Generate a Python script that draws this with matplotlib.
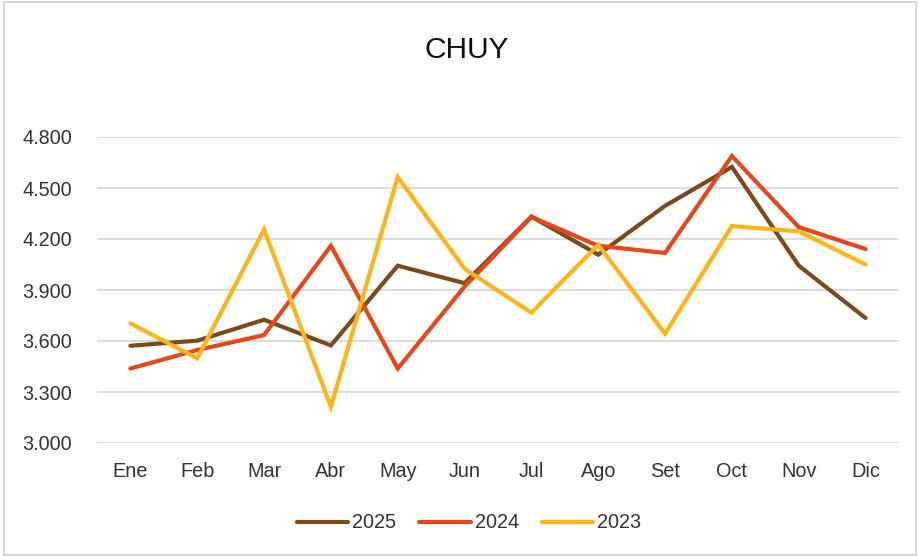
import matplotlib
matplotlib.use("Agg")
import matplotlib.pyplot as plt
from matplotlib.ticker import FuncFormatter, MultipleLocator
from matplotlib.patches import Rectangle

plt.rcParams['font.family'] = ['Liberation Sans', 'DejaVu Sans']

months = ["Ene", "Feb", "Mar", "Abr", "May", "Jun", "Jul", "Ago", "Set", "Oct", "Nov", "Dic"]
s2025 = [3572, 3602, 3725, 3574, 4043, 3940, 4332, 4108, 4395, 4624, 4043, 3735]
s2024 = [3438, 3547, 3635, 4160, 3438, 3920, 4330, 4160, 4118, 4688, 4270, 4141]
s2023 = [3704, 3498, 4256, 3213, 4565, 4025, 3767, 4166, 3643, 4276, 4245, 4050]
series = [("2025", s2025, "#7a4a1d"), ("2024", s2024, "#e8461a"), ("2023", s2023, "#fdb414")]

fig = plt.figure(figsize=(9.2, 5.56), dpi=100)
ax = fig.add_axes([97/920, 1-443/556, (899-97)/920, (443-137)/556])

x = list(range(len(months)))
for name, vals, col in series:
    ax.plot(x, vals, color=col, lw=3.0, label=name, solid_capstyle='round', solid_joinstyle='miter')

ax.set_xlim(-0.5, 11.5)
ax.set_ylim(3000, 4800)
ax.yaxis.set_major_locator(MultipleLocator(300))
ax.yaxis.set_major_formatter(FuncFormatter(lambda v, p: f"{v:,.0f}".replace(",", ".")))
ax.set_xticks(x)
ax.set_xticklabels(months)
ax.grid(axis='y', color='#d9d9d9', lw=1.3)
ax.set_axisbelow(True)
for s in ax.spines.values():
    s.set_visible(False)
ax.tick_params(axis='both', length=0, labelsize=14.3, colors='#333333')
ax.tick_params(axis='y', pad=18)
ax.tick_params(axis='x', pad=14)

fig.text(467/920, 1-50/556, "CHUY", ha='center', va='center', fontsize=21.5, color='#111111')

leg = fig.legend(loc='center', bbox_to_anchor=(469/920, 1-523/556), ncol=3, frameon=False,
                 fontsize=14.3, handlelength=2.6, handletextpad=0.2, columnspacing=1.15)
for t in leg.get_texts():
    t.set_color('#333333')

fig.patches.append(Rectangle((0.004, 0.002), 0.992, 0.995, transform=fig.transFigure,
                             fill=False, edgecolor='#d0d0d0', lw=1.2))

fig.savefig("out.png", dpi=100)
